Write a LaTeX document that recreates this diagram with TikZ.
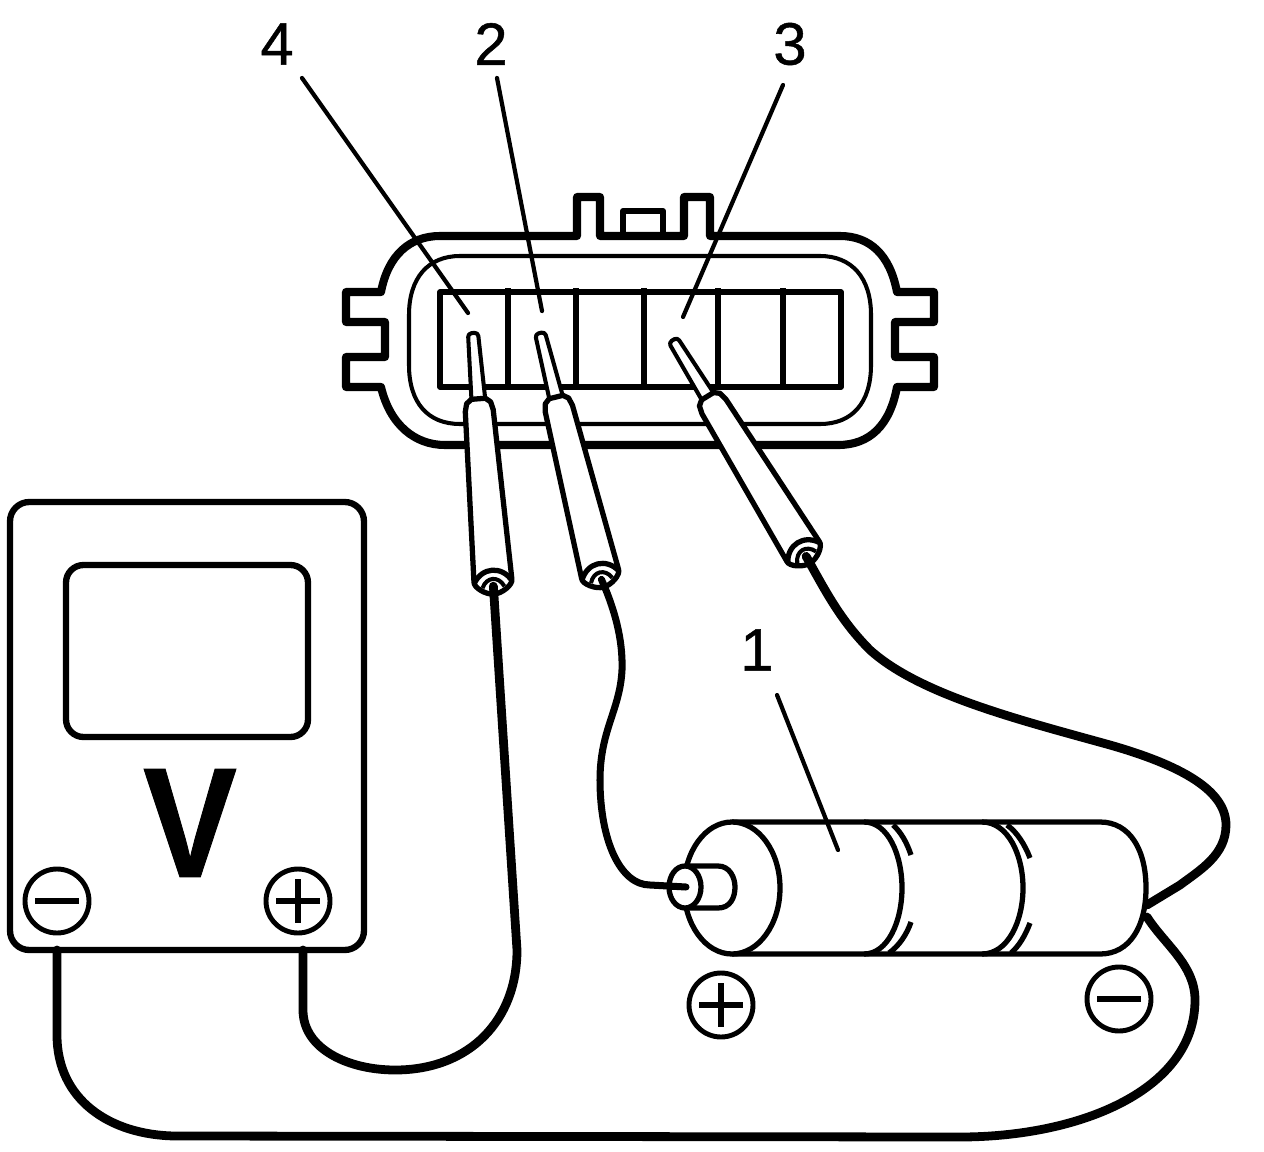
\documentclass[tikz,border=0pt]{standalone}
\usepackage{fontspec}
\setmainfont{Liberation Sans}
\newfontfamily\calloutfont[FakeBold=0.8]{Liberation Sans}
\newfontfamily\meterfont[FakeBold=0.6]{Liberation Sans Bold}
\tikzset{
    heavy/.style={line width=4.6pt,line join=round},
    outline/.style={line width=3pt,line join=round},
    thin outline/.style={line width=2.3pt,line join=round},
    probe outline/.style={line width=3pt,line join=round},
    wire/.style={line width=5pt,line cap=round,line join=round},
    leader/.style={line width=2.4pt,line cap=round},
    callout/.style={font=\fontsize{34}{34}\calloutfont,inner sep=0pt},
    polarity/.style={line width=2.8pt,fill=white},
    signbar/.style={line width=3.8pt}
}
% tip x, tip y, lean of the probe
\newcommand{\testprobe}[4]{
    \begin{scope}[shift={(#1,#2)},rotate=#3]
        \draw[thin outline,fill=white,rounded corners=2pt] (-5,0) -- (5,0) -- (7,70) -- (-7,70) -- cycle;
        \draw[probe outline,fill=white] (-14,78) -- (-12,70) -- (-7,66) -- (7,66) -- (12,70) -- (14,78) -- (19,248)
            .. controls (20,254) and (8,262) .. (0,262) .. controls (-8,262) and (-20,254) .. (-19,248) -- cycle;
        \draw[probe outline] (-19,250) .. controls (-10,234) and (10,234) .. (19,250);
        \draw[thin outline] (-11,255) .. controls (-6,244) and (6,244) .. (11,255);
        \coordinate (#4) at (0,254);
    \end{scope}
}
\newcommand{\signmark}[3]{
    \draw[polarity] (#1,#2) circle (32);
    \draw[signbar] (#1-22,#2) -- (#1+22,#2);
    \if#3p\draw[signbar] (#1,#2-22) -- (#1,#2+22);\fi
}

\begin{document}
\begin{tikzpicture}[x=0.02cm,y=-0.02cm]
    \useasboundingbox (0,0) rectangle (1264,1152);
    \fill[white] (0,0) rectangle (1264,1152);

    % connector
    \draw[heavy] (381,292) -- (346,292) -- (346,322) -- (385,322) -- (385,357) -- (346,357) -- (346,387) -- (381,387)
        .. controls (390,425) and (415,445) .. (445,445) -- (838,445)
        .. controls (870,445) and (890,425) .. (897,387) -- (934,387) -- (934,357) -- (895,357) -- (895,322) -- (934,322) -- (934,292) -- (897,292)
        .. controls (890,255) and (870,236) .. (840,236) -- (710,236) -- (710,197) -- (684,197) -- (684,236) -- (600,236) -- (600,197) -- (577,197) -- (577,236) -- (440,236)
        .. controls (410,236) and (388,255) .. (381,292) -- cycle;
    \draw[outline,line width=3.4pt] (623,236) -- (623,211) -- (663,211) -- (663,236);
    \draw[thin outline] (409,315) .. controls (409,278) and (428,256) .. (460,256) -- (820,256)
        .. controls (852,256) and (871,278) .. (871,315) -- (871,365)
        .. controls (871,403) and (852,424) .. (820,424) -- (460,424)
        .. controls (428,424) and (409,403) .. (409,365) -- cycle;
    \draw[outline] (440,292) rectangle (841,387);
    \foreach \xdiv in {508,576,644,718,783}
        \draw[outline] (\xdiv,288) -- (\xdiv,387);

    % labels
    \node[callout] (labelfour) at (277,44) {4};
    \node[callout] (labeltwo) at (491,44) {2};
    \node[callout] (labelthree) at (790,44) {3};
    \node[callout] (labelone) at (757,650) {1};
    \coordinate (cavityfour) at (468,313);
    \coordinate (cavitytwo) at (542,311);
    \coordinate (cavitythree) at (683,317);
    \coordinate (cell) at (838,850);
    \coordinate (startfour) at (302,78);
    \coordinate (starttwo) at (497,78);
    \coordinate (startthree) at (783,85);
    \coordinate (startone) at (777,695);
    \draw[leader] (startfour) -- (cavityfour);
    \draw[leader] (starttwo) -- (cavitytwo);
    \draw[leader] (startthree) -- (cavitythree);

    % probes
    \testprobe{473}{333}{4.6}{probea}
    \testprobe{540}{333}{14}{probeb}
    \testprobe{673}{340}{31.6}{probec}

    % meter
    \draw[outline,line width=3.6pt,rounded corners=11pt] (10,502) rectangle (364,950);
    \draw[outline,line width=3.6pt,rounded corners=10pt] (66,565) rectangle (308,737);
    \node[font=\fontsize{89}{89}\meterfont,inner sep=0pt,xscale=0.9] (meterv) at (190,823) {V};
    \signmark{57}{901}{m}
    \signmark{298}{901}{p}
    \coordinate (meterminus) at (57,950);
    \coordinate (meterplus) at (303,950);

    % battery
    \draw[outline,fill=white] (732,822) -- (1100,822) .. controls (1130,822) and (1146,850) .. (1146,888)
        .. controls (1146,926) and (1130,954) .. (1100,954) -- (732,954);
    \draw[outline,fill=white] (732,888) ellipse [x radius=48,y radius=66];
    \draw[outline] (864,822) .. controls (888,822) and (902,855) .. (902,888) .. controls (902,921) and (888,954) .. (864,954);
    \draw[outline] (982,822) .. controls (1008,822) and (1023,855) .. (1023,888) .. controls (1023,921) and (1008,954) .. (982,954);
    \draw[outline] (893,825) .. controls (901,832) and (907,843) .. (911,855);
    \draw[outline] (911,922) .. controls (907,934) and (899,946) .. (889,953);
    \draw[outline] (1007,825) .. controls (1017,832) and (1025,845) .. (1030,858);
    \draw[outline] (1030,923) .. controls (1025,936) and (1019,946) .. (1011,953);
    \draw[outline,fill=white] (685,866) -- (718,866) .. controls (730,866) and (735,878) .. (735,887)
        .. controls (735,898) and (730,908) .. (718,908) -- (685,908);
    \draw[outline,fill=white] (685,887) ellipse [x radius=16,y radius=21];
    \coordinate (cellplus) at (686,887);
    \coordinate (cellminus) at (1147,905);
    \coordinate (cellminustwo) at (1147,917);
    \draw[leader] (startone) -- (cell);
    \signmark{721}{1005}{p}
    \signmark{1119}{999}{m}

    % wires
    \draw[wire] (meterplus) -- (303,1010) .. controls (303,1050) and (350,1070) .. (395,1070)
        .. controls (470,1070) and (517,1020) .. (517,950) -- (probea);
    \draw[wire,line width=4pt] (probeb) .. controls (615,610) and (623,640) .. (622,670)
        .. controls (620,710) and (600,730) .. (600,780) .. controls (600,840) and (620,885) .. (650,885) -- (cellplus);
    \draw[wire] (probec) .. controls (825,590) and (840,620) .. (870,650)
        .. controls (920,695) and (1020,720) .. (1110,745) .. controls (1180,765) and (1226,790) .. (1226,825)
        .. controls (1226,855) and (1200,870) .. (1180,885) -- (cellminus);
    \draw[wire] (meterminus) -- (57,1035) .. controls (57,1100) and (110,1135) .. (175,1136) -- (960,1137)
        .. controls (1080,1137) and (1195,1090) .. (1195,1000) .. controls (1195,965) and (1165,945) .. (cellminustwo);
\end{tikzpicture}
\end{document}
